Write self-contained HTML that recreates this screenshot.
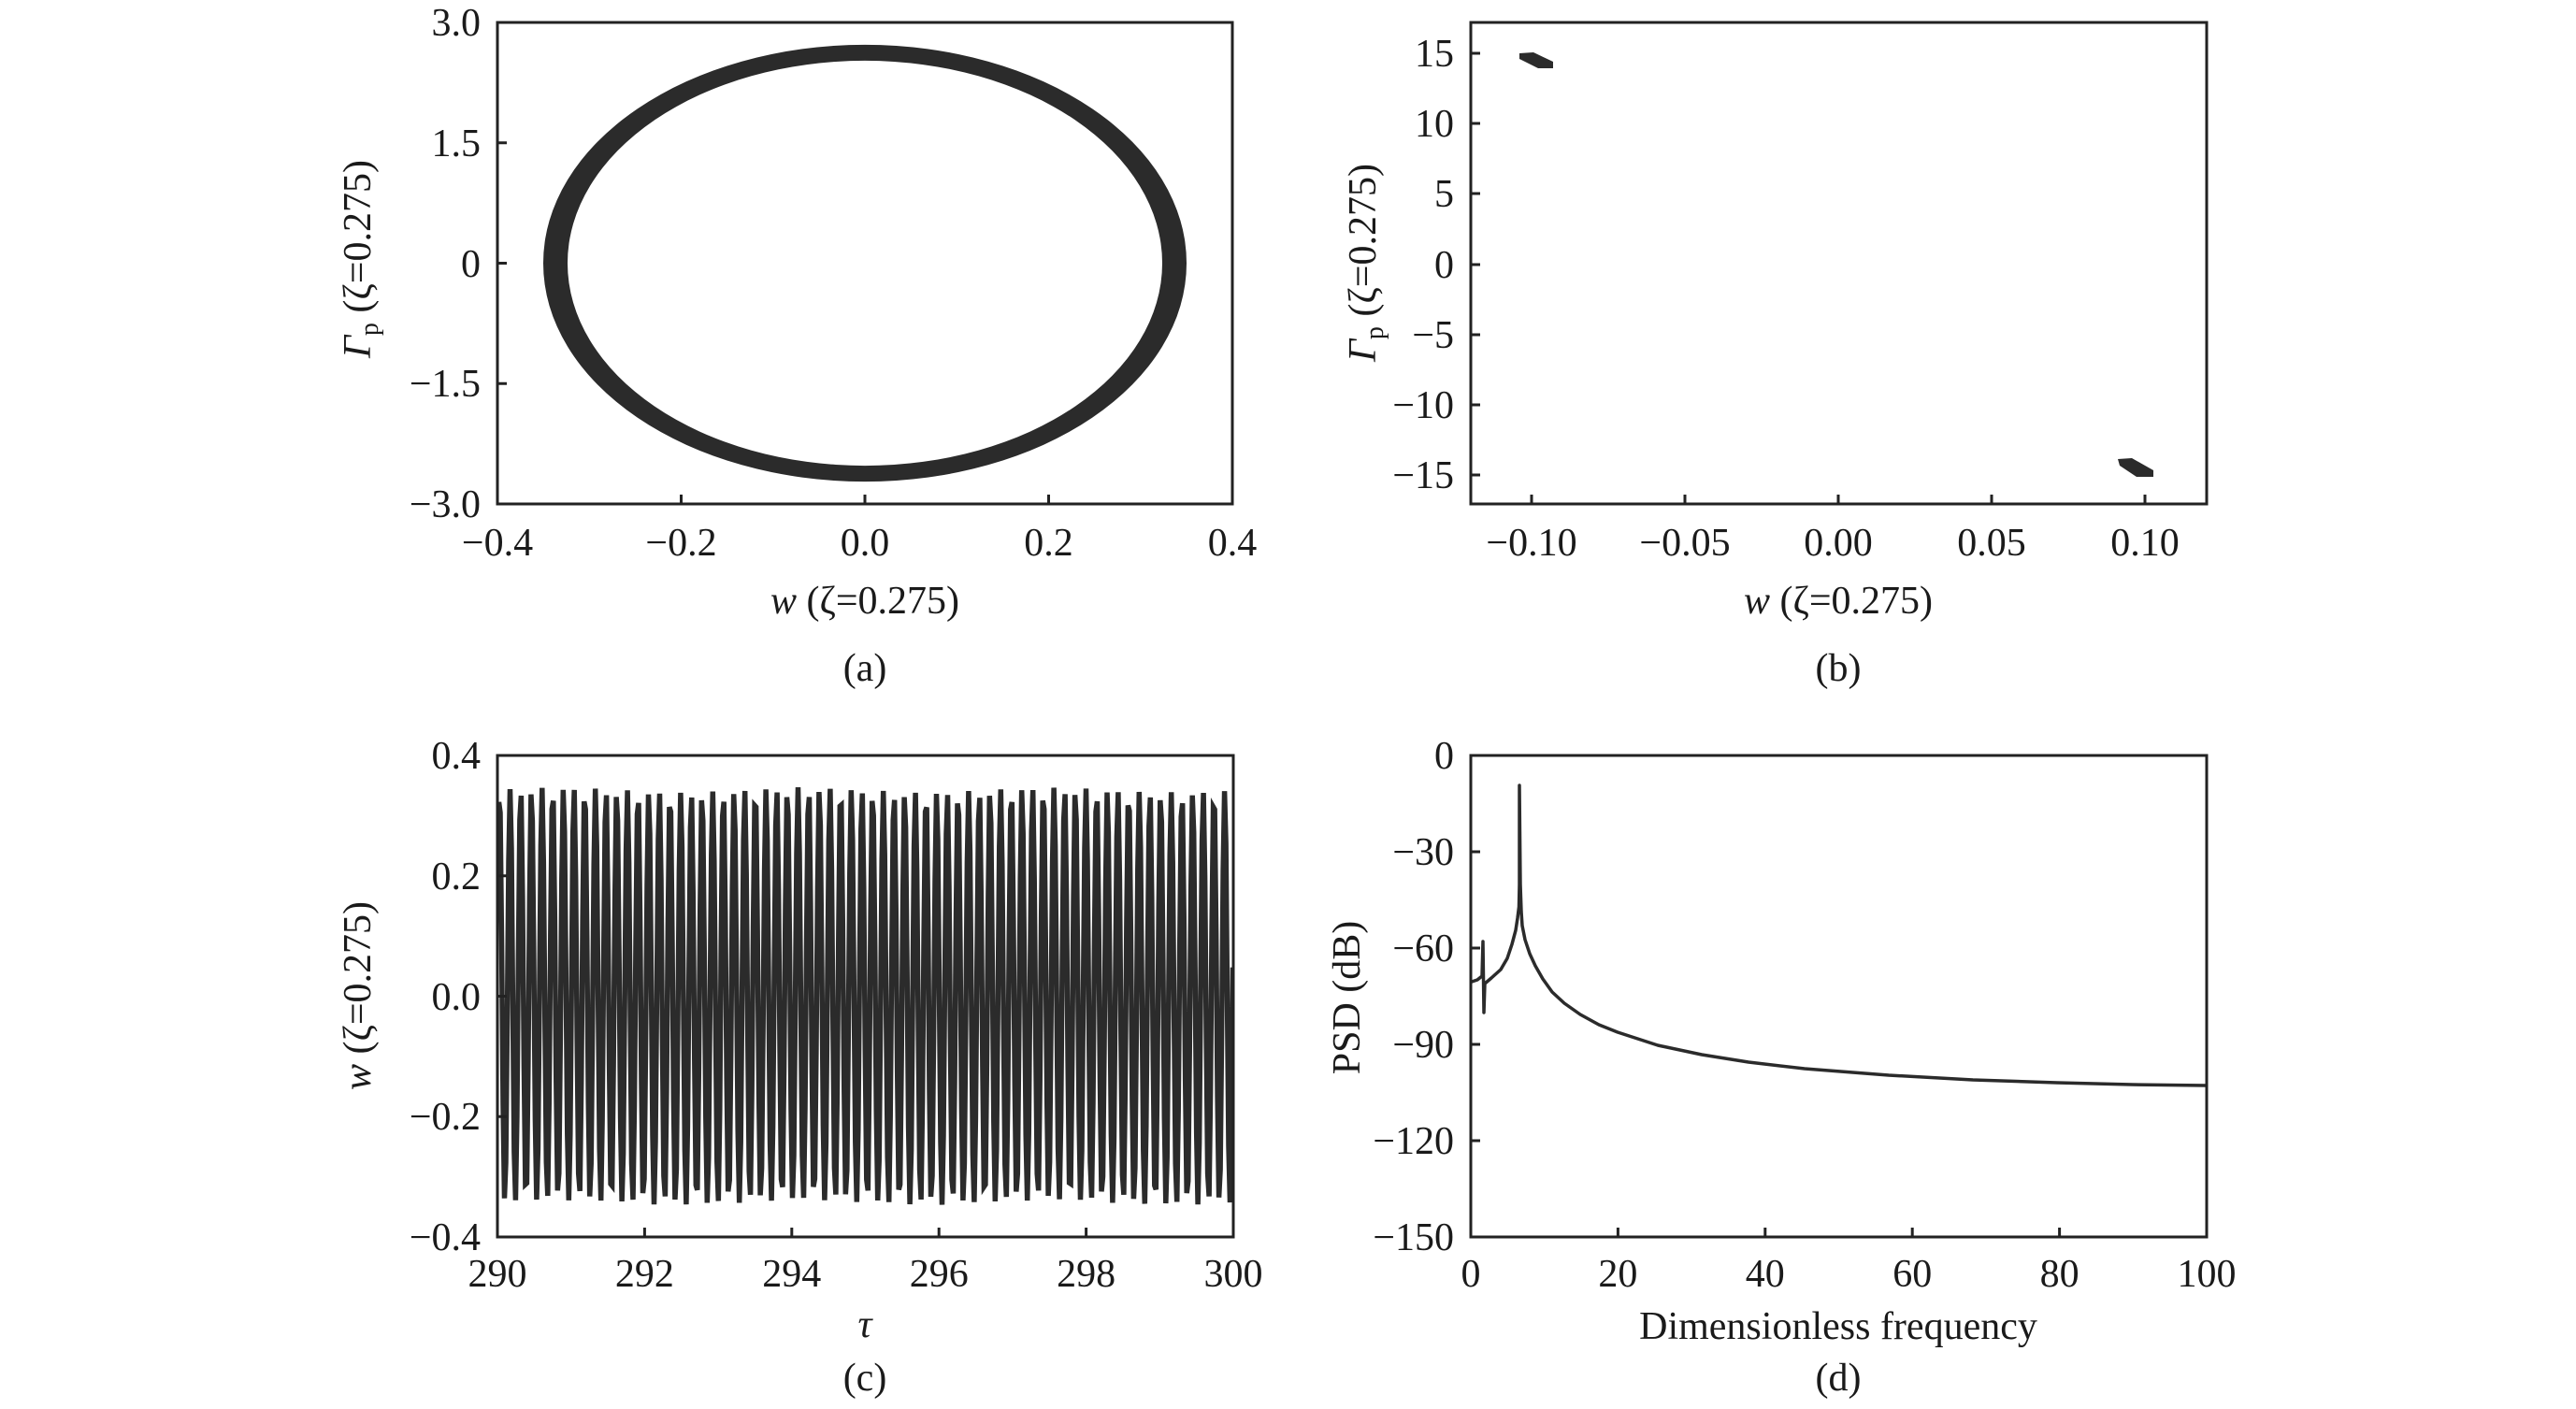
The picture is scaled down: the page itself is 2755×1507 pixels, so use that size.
<!DOCTYPE html>
<html><head><meta charset="utf-8"><style>
html,body{margin:0;padding:0;background:#fff;}
svg{display:block;}
text{font-family:"Liberation Serif","Times New Roman",serif;font-size:42px;fill:#1a1a1a;}
.ax{fill:none;stroke:#222;stroke-width:3;}
.tk{stroke:#222;stroke-width:3;}
</style></head><body>
<svg id="s" width="2755" height="1507" viewBox="0 0 2755 1507" xmlns="http://www.w3.org/2000/svg">
<!-- (a) -->
<path fill="#2b2b2b" fill-rule="evenodd" d="M581,281.5 a344,233.5 0 1,0 688,0 a344,233.5 0 1,0 -688,0 Z M607,281.5 a318,216.5 0 1,0 636,0 a318,216.5 0 1,0 -636,0 Z"/>
<rect class="ax" x="532" y="24" width="786" height="515"/>
<g class="tk">
<line x1="728.5" y1="539" x2="728.5" y2="529"/><line x1="925" y1="539" x2="925" y2="529"/><line x1="1121.5" y1="539" x2="1121.5" y2="529"/>
<line x1="532" y1="152.75" x2="542" y2="152.75"/><line x1="532" y1="281.5" x2="542" y2="281.5"/><line x1="532" y1="410.25" x2="542" y2="410.25"/>
</g>
<g text-anchor="end">
<text x="514" y="38">3.0</text><text x="514" y="167">1.5</text><text x="514" y="296">0</text><text x="514" y="424">−1.5</text><text x="514" y="553">−3.0</text>
</g>
<g text-anchor="middle">
<text x="532" y="594">−0.4</text><text x="728.5" y="594">−0.2</text><text x="925" y="594">0.0</text><text x="1121.5" y="594">0.2</text><text x="1318" y="594">0.4</text>
<text x="925" y="656"><tspan font-style="italic">w</tspan> (ζ=0.275)</text>
<text x="925" y="728">(a)</text>
</g>
<text transform="translate(396,277) rotate(-90)" text-anchor="middle"><tspan font-style="italic">Γ</tspan><tspan font-size="28" dy="8">p</tspan><tspan dy="-8"> (ζ=0.275)</tspan></text>

<!-- (b) -->
<polygon fill="#2b2b2b" points="1625,57 1640,56 1661,66 1661,73 1645,73 1625,63"/>
<polygon fill="#2b2b2b" points="2265,491 2280,490 2303,503 2303,510 2285,510 2267,498"/>
<rect class="ax" x="1573" y="24" width="787" height="515"/>
<g class="tk">
<line x1="1638" y1="539" x2="1638" y2="529"/><line x1="1802" y1="539" x2="1802" y2="529"/><line x1="1966" y1="539" x2="1966" y2="529"/><line x1="2130" y1="539" x2="2130" y2="529"/><line x1="2294" y1="539" x2="2294" y2="529"/>
<line x1="1573" y1="57" x2="1583" y2="57"/><line x1="1573" y1="132" x2="1583" y2="132"/><line x1="1573" y1="207" x2="1583" y2="207"/><line x1="1573" y1="283" x2="1583" y2="283"/><line x1="1573" y1="358" x2="1583" y2="358"/><line x1="1573" y1="433" x2="1583" y2="433"/><line x1="1573" y1="508" x2="1583" y2="508"/>
</g>
<g text-anchor="end">
<text x="1555" y="71">15</text><text x="1555" y="146">10</text><text x="1555" y="221">5</text><text x="1555" y="297">0</text><text x="1555" y="372">−5</text><text x="1555" y="447">−10</text><text x="1555" y="522">−15</text>
</g>
<g text-anchor="middle">
<text x="1638" y="594">−0.10</text><text x="1802" y="594">−0.05</text><text x="1966" y="594">0.00</text><text x="2130" y="594">0.05</text><text x="2294" y="594">0.10</text>
<text x="1966" y="656"><tspan font-style="italic">w</tspan> (ζ=0.275)</text>
<text x="1966" y="728">(b)</text>
</g>
<text transform="translate(1471,281) rotate(-90)" text-anchor="middle"><tspan font-style="italic">Γ</tspan><tspan font-size="28" dy="8">p</tspan><tspan dy="-8"> (ζ=0.275)</tspan></text>

<!-- (c) -->
<clipPath id="cc"><rect x="532" y="808" width="787" height="515"/></clipPath>
<path id="osc" clip-path="url(#cc)" fill="none" stroke="#2b2b2b" stroke-width="5.5" d=""/>
<rect class="ax" x="532" y="808" width="787" height="515"/>
<g class="tk">
<line x1="689.4" y1="1323" x2="689.4" y2="1313"/><line x1="846.8" y1="1323" x2="846.8" y2="1313"/><line x1="1004.2" y1="1323" x2="1004.2" y2="1313"/><line x1="1161.6" y1="1323" x2="1161.6" y2="1313"/>
<line x1="532" y1="936.75" x2="542" y2="936.75"/><line x1="532" y1="1065.5" x2="542" y2="1065.5"/><line x1="532" y1="1194.25" x2="542" y2="1194.25"/>
</g>
<g text-anchor="end">
<text x="514" y="822">0.4</text><text x="514" y="951">0.2</text><text x="514" y="1080">0.0</text><text x="514" y="1208">−0.2</text><text x="514" y="1337">−0.4</text>
</g>
<g text-anchor="middle">
<text x="532" y="1376">290</text><text x="689.4" y="1376">292</text><text x="846.8" y="1376">294</text><text x="1004.2" y="1376">296</text><text x="1161.6" y="1376">298</text><text x="1319" y="1376">300</text>
<text x="925" y="1430" font-style="italic">τ</text>
<text x="925" y="1487">(c)</text>
</g>
<text transform="translate(396,1065) rotate(-90)" text-anchor="middle"><tspan font-style="italic">w</tspan> (ζ=0.275)</text>

<!-- (d) -->
<polyline fill="none" stroke="#2b2b2b" stroke-width="3.5" stroke-linejoin="round" points="1574,1050 1580,1048 1585,1044 1586,1007 1587,1083 1588,1052 1595,1046 1605,1037 1612,1025 1617,1010 1621,995 1623,982 1624.5,970 1625,946 1625,840 1626,946 1627,975 1628,990 1631,1005 1636,1020 1642,1033 1650,1047 1660,1061 1673,1073 1690,1085 1710,1096 1730,1104 1773,1118 1820,1128 1870,1136 1930,1143 2020,1150 2110,1155 2200,1158 2280,1160 2360,1161"/>
<rect class="ax" x="1573" y="808" width="787" height="515"/>
<g class="tk">
<line x1="1730.4" y1="1323" x2="1730.4" y2="1313"/><line x1="1887.8" y1="1323" x2="1887.8" y2="1313"/><line x1="2045.2" y1="1323" x2="2045.2" y2="1313"/><line x1="2202.6" y1="1323" x2="2202.6" y2="1313"/>
<line x1="1573" y1="911" x2="1583" y2="911"/><line x1="1573" y1="1014" x2="1583" y2="1014"/><line x1="1573" y1="1117" x2="1583" y2="1117"/><line x1="1573" y1="1220" x2="1583" y2="1220"/>
</g>
<g text-anchor="end">
<text x="1555" y="822">0</text><text x="1555" y="925">−30</text><text x="1555" y="1028">−60</text><text x="1555" y="1131">−90</text><text x="1555" y="1234">−120</text><text x="1555" y="1337">−150</text>
</g>
<g text-anchor="middle">
<text x="1573" y="1376">0</text><text x="1730.4" y="1376">20</text><text x="1887.8" y="1376">40</text><text x="2045.2" y="1376">60</text><text x="2202.6" y="1376">80</text><text x="2360" y="1376">100</text>
<text x="1966" y="1432">Dimensionless frequency</text>
<text x="1966" y="1487">(d)</text>
</g>
<text transform="translate(1454,1067) rotate(-90)" text-anchor="middle">PSD (dB)</text>
</svg>
<script>
(function(){
var d="",n=0;
for(var t=290;t<=300.0001;t+=0.019){
 var w=0.343*Math.sin(2*Math.PI*6.9*t+0.4)+0.004*Math.sin(2*Math.PI*0.3*t);
 var x=532+(t-290)*78.7, y=1065.5-w*643.75;
 d+=(n++?"L":"M")+x.toFixed(1)+","+y.toFixed(1);
}
document.getElementById("osc").setAttribute("d",d);
})();
</script>
</body></html>
